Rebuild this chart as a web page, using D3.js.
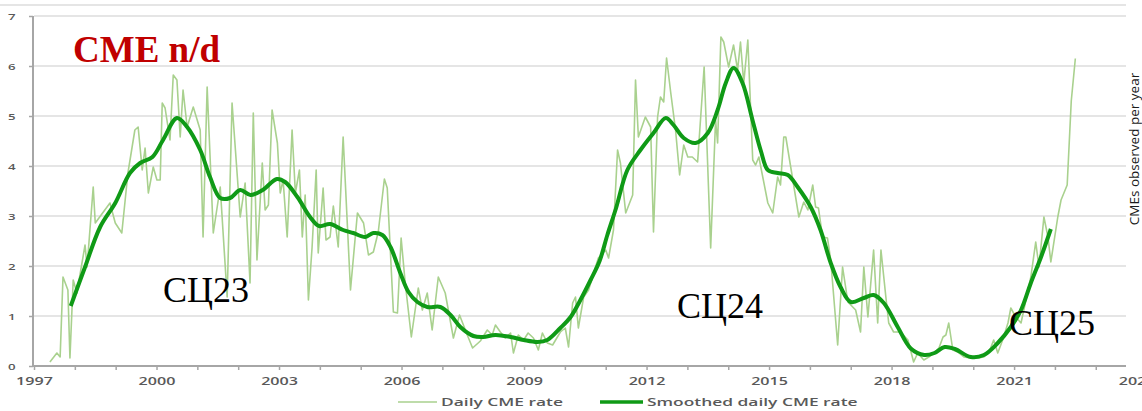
<!DOCTYPE html>
<html><head><meta charset="utf-8">
<script src="https://cdn.jsdelivr.net/npm/d3@7"></script>
<style>
html,body{margin:0;padding:0;background:#fff;}
svg{display:block;}
</style></head>
<body>
<svg id="c" width="1142" height="411"></svg>
<script>
// ---- data ----
const rawYears = [1997.39,1997.56,1997.64,1997.71,1997.83,1997.88,1997.96,1998.05,1998.25,1998.3,1998.45,1998.5,1998.86,1998.99,1999.15,1999.3,1999.47,1999.55,1999.65,1999.72,1999.8,1999.92,2000.01,2000.09,2000.14,2000.21,2000.33,2000.41,2000.5,2000.58,2000.65,2000.75,2000.9,2001.07,2001.14,2001.24,2001.39,2001.56,2001.73,2001.85,2002.05,2002.17,2002.29,2002.37,2002.46,2002.59,2002.66,2002.74,2002.83,2002.96,2003.03,2003.1,2003.2,2003.32,2003.4,2003.5,2003.57,2003.64,2003.72,2003.81,2003.91,2003.96,2004.08,2004.15,2004.25,2004.33,2004.45,2004.57,2004.75,2004.92,2005.07,2005.19,2005.31,2005.43,2005.58,2005.65,2005.8,2005.9,2005.99,2006.09,2006.24,2006.41,2006.51,2006.63,2006.75,2006.9,2007.07,2007.27,2007.42,2007.61,2007.74,2007.93,2008.1,2008.22,2008.3,2008.42,2008.54,2008.67,2008.74,2008.86,2008.99,2009.1,2009.23,2009.35,2009.45,2009.57,2009.7,2009.89,2010.01,2010.09,2010.19,2010.26,2010.33,2010.46,2010.58,2010.75,2010.82,2011.0,2011.07,2011.19,2011.29,2011.36,2011.49,2011.66,2011.73,2011.8,2011.97,2012.1,2012.17,2012.27,2012.34,2012.42,2012.49,2012.59,2012.71,2012.81,2012.91,2013.01,2013.12,2013.25,2013.41,2013.57,2013.69,2013.74,2013.82,2013.89,2014.01,2014.13,2014.23,2014.3,2014.38,2014.48,2014.6,2014.67,2014.75,2014.97,2015.09,2015.21,2015.28,2015.36,2015.41,2015.53,2015.73,2015.85,2015.95,2016.07,2016.14,2016.21,2016.31,2016.43,2016.51,2016.68,2016.8,2016.93,2017.12,2017.24,2017.32,2017.42,2017.56,2017.66,2017.74,2017.86,2017.93,2018.05,2018.22,2018.4,2018.54,2018.64,2018.79,2018.91,2019.04,2019.16,2019.26,2019.33,2019.4,2019.5,2019.62,2019.77,2019.94,2020.11,2020.26,2020.38,2020.5,2020.6,2020.72,2020.85,2020.92,2021.04,2021.17,2021.29,2021.41,2021.53,2021.61,2021.73,2021.83,2021.9,2022.07,2022.15,2022.3,2022.4,2022.5];
const rawValues = [0.08,0.26,0.18,1.78,1.52,0.16,1.72,1.46,2.42,1.98,3.58,2.86,3.26,2.86,2.66,3.86,4.72,4.78,3.92,4.36,3.46,3.98,3.72,3.72,5.26,5.16,4.52,5.82,5.72,4.58,5.52,4.78,5.18,4.72,2.58,5.58,2.66,3.58,1.38,5.26,2.98,3.66,1.66,5.06,2.12,4.06,3.12,3.22,5.12,4.46,3.46,3.72,2.58,4.72,3.46,3.92,2.58,3.42,1.32,2.38,3.92,2.26,3.56,2.52,2.58,3.2,2.38,4.58,1.52,3.06,2.86,2.22,2.28,2.68,3.74,3.56,1.08,1.06,2.56,1.66,0.58,1.56,1.12,1.46,0.72,1.78,1.46,0.56,1.02,0.62,0.36,0.5,0.72,0.62,0.82,0.68,0.56,0.66,0.26,0.62,0.52,0.66,0.56,0.32,0.66,0.46,0.42,0.68,0.76,0.38,1.26,1.38,0.76,1.38,1.52,1.98,2.16,2.32,2.16,2.72,4.32,4.06,3.06,3.42,5.72,4.58,4.98,4.78,2.68,4.98,5.38,5.28,6.16,5.48,4.72,3.82,4.42,4.18,4.18,4.08,5.98,2.36,4.92,4.46,6.58,6.48,5.98,6.42,5.92,6.48,5.66,6.52,4.12,4.02,4.18,3.26,3.06,3.78,3.62,4.58,4.58,3.98,2.98,3.28,3.12,3.62,3.18,3.16,2.58,2.56,2.12,0.42,1.98,1.28,1.12,0.68,1.98,0.98,2.32,0.86,2.32,1.38,0.86,0.68,0.68,0.52,0.08,0.26,0.12,0.18,0.26,0.36,0.58,0.62,0.86,0.32,0.28,0.18,0.16,0.16,0.18,0.26,0.52,0.26,0.52,0.86,1.16,0.98,0.86,1.32,1.78,2.48,1.98,2.98,2.58,2.08,2.98,3.32,3.62,5.3,6.15];

const smoothYears = [1997.9,1998.25,1998.62,1998.99,1999.35,1999.6,1999.9,2000.16,2000.5,2000.75,2001.07,2001.31,2001.56,2001.8,2002.05,2002.3,2002.6,2002.95,2003.15,2003.45,2003.76,2003.98,2004.25,2004.57,2004.82,2005.11,2005.31,2005.53,2005.73,2005.97,2006.17,2006.39,2006.63,2006.95,2007.2,2007.44,2007.76,2008.0,2008.3,2008.67,2008.99,2009.33,2009.57,2009.89,2010.14,2010.38,2010.63,2010.85,2011.04,2011.25,2011.53,2011.85,2012.17,2012.47,2012.66,2012.91,2013.2,2013.5,2013.74,2013.94,2014.13,2014.35,2014.6,2014.8,2014.97,2015.21,2015.46,2015.7,2016.02,2016.26,2016.51,2016.75,2017.0,2017.32,2017.56,2017.81,2018.15,2018.47,2018.8,2019.05,2019.3,2019.55,2019.94,2020.26,2020.6,2020.92,2021.17,2021.41,2021.66,2021.9];
const smoothValues = [1.2,1.98,2.78,3.26,3.86,4.06,4.18,4.52,4.96,4.78,4.32,3.78,3.36,3.36,3.52,3.42,3.52,3.74,3.68,3.38,2.98,2.8,2.84,2.72,2.66,2.58,2.66,2.62,2.38,1.86,1.48,1.28,1.18,1.18,1.02,0.78,0.6,0.58,0.62,0.58,0.52,0.48,0.52,0.76,0.98,1.32,1.72,2.1,2.62,3.15,3.92,4.32,4.66,4.96,4.82,4.56,4.46,4.66,5.12,5.66,5.96,5.66,4.9,4.3,3.92,3.86,3.82,3.58,3.18,2.72,2.06,1.58,1.28,1.36,1.42,1.26,0.78,0.35,0.22,0.26,0.38,0.34,0.18,0.22,0.46,0.78,1.12,1.66,2.18,2.74];

const yTicks = [0,1,2,3,4,5,6,7];
const xTickYears = d3.range(1997, 2025);
const xLabelYears = [1997,2000,2003,2006,2009,2012,2015,2018,2021,2024];
const seriesNames = ["Daily CME rate","Smoothed daily CME rate"];
const titleText = "CME n/d";
const rightLabel = "CMEs observed per year";
const cycleLabels = ["СЦ23","СЦ24","СЦ25"];

// ---- drawing ----
const svg = d3.select("#c");
const x = d3.scaleLinear().domain([1997, 2024]).range([34, 1136.6]);
const y = d3.scaleLinear().domain([0, 7]).range([366, 16]);
const plotRight = 1126;
const axisCol = "#a6a6a6", gridCol = "#dcdcdc", labCol = "#595959";
const lightGreen = "#a9d18e", darkGreen = "#0f9a16";
const stretch = 1.4;
const legStretch = 1.58;

// top border
svg.append("line").attr("x1",0).attr("x2",plotRight).attr("y1",5).attr("y2",5)
  .attr("stroke",gridCol).attr("stroke-width",1.5);

// grid
svg.append("g").selectAll("line").data(yTicks.filter(d=>d>0)).join("line")
  .attr("x1",34).attr("x2",plotRight)
  .attr("y1",d=>y(d)).attr("y2",d=>y(d))
  .attr("stroke",gridCol).attr("stroke-width",1.5);

// y axis
const gy = svg.append("g").attr("transform","translate(33,0)")
  .call(d3.axisLeft(y).tickValues(yTicks).tickFormat(d3.format("d")).tickSize(4).tickPadding(0));
gy.select(".domain").remove();
gy.append("line").attr("y1",y(7)).attr("y2",y(0)).attr("stroke",axisCol).attr("stroke-width",2);
gy.selectAll(".tick line").attr("stroke",axisCol).attr("stroke-width",1.5);
gy.selectAll(".tick text").attr("x",-12.5).attr("dy","0.32em")
  .attr("transform",`scale(${stretch},1)`)
  .style("font-family","'Open Sans', sans-serif").style("font-size","9.5px")
  .style("font-weight","600").attr("fill",labCol);

// x axis
const gx = svg.append("g").attr("transform","translate(0,366)")
  .call(d3.axisBottom(x).tickValues(xTickYears).tickSize(4)
    .tickFormat(d => xLabelYears.includes(d) ? String(d) : ""));
gx.select(".domain").remove();
gx.append("line").attr("x1",33).attr("x2",plotRight).attr("stroke",axisCol).attr("stroke-width",2);
gx.selectAll(".tick line").attr("stroke",axisCol).attr("stroke-width",1.5)
  .attr("display",d => d>2023 ? "none" : null);
gx.selectAll(".tick text").attr("y",19.5).attr("dy",0)
  .attr("transform",`scale(${stretch},1)`)
  .style("font-family","'Open Sans', sans-serif").style("font-size","11.5px")
  .style("font-weight","600").attr("fill",labCol);

// series
const rawData = rawYears.map((t,i)=>[t,rawValues[i]]);
const smoothData = smoothYears.map((t,i)=>[t,smoothValues[i]]);
svg.append("path").datum(rawData)
  .attr("d", d3.line().x(d=>x(d[0])).y(d=>y(d[1])))
  .attr("fill","none").attr("stroke",lightGreen).attr("stroke-width",1.6)
  .attr("stroke-linejoin","round");
svg.append("path").datum(smoothData)
  .attr("d", d3.line().curve(d3.curveCatmullRom.alpha(0.5)).x(d=>x(d[0])).y(d=>y(d[1])))
  .attr("fill","none").attr("stroke",darkGreen).attr("stroke-width",4)
  .attr("stroke-linejoin","round");

// title
svg.append("text").attr("x",73).attr("y",62).text(titleText)
  .style("font-family","'Liberation Serif','Times New Roman',serif")
  .style("font-size","37px").style("font-weight","bold").attr("fill","#c00000");

// cycle labels
const cyclePos = [[163,302],[677,318],[1009,335]];
svg.append("g").selectAll("text").data(cycleLabels).join("text")
  .attr("x",(d,i)=>cyclePos[i][0]).attr("y",(d,i)=>cyclePos[i][1]).text(d=>d)
  .style("font-family","'Liberation Serif','Times New Roman',serif")
  .style("font-size","36px").attr("fill","#000");

// right label
svg.append("text").attr("transform","translate(1139,149) rotate(-90)")
  .attr("text-anchor","middle").text(rightLabel)
  .style("font-family","'Open Sans', sans-serif").style("font-size","13.5px").attr("fill","#1a1a1a");

// legend
const leg = [[398,437,lightGreen,1.6],[600,643,darkGreen,3.5]];
const lg = svg.append("g");
seriesNames.forEach((name,i)=>{
  lg.append("line").attr("x1",leg[i][0]).attr("x2",leg[i][1]).attr("y1",402).attr("y2",402)
    .attr("stroke",leg[i][2]).attr("stroke-width",leg[i][3]);
  lg.append("text").attr("transform",`translate(${leg[i][1]+4},406) scale(${legStretch},1)`)
    .text(name).style("font-family","'Open Sans', sans-serif").style("font-size","11px")
    .style("font-weight","600").attr("fill",labCol);
});
</script>
</body></html>
